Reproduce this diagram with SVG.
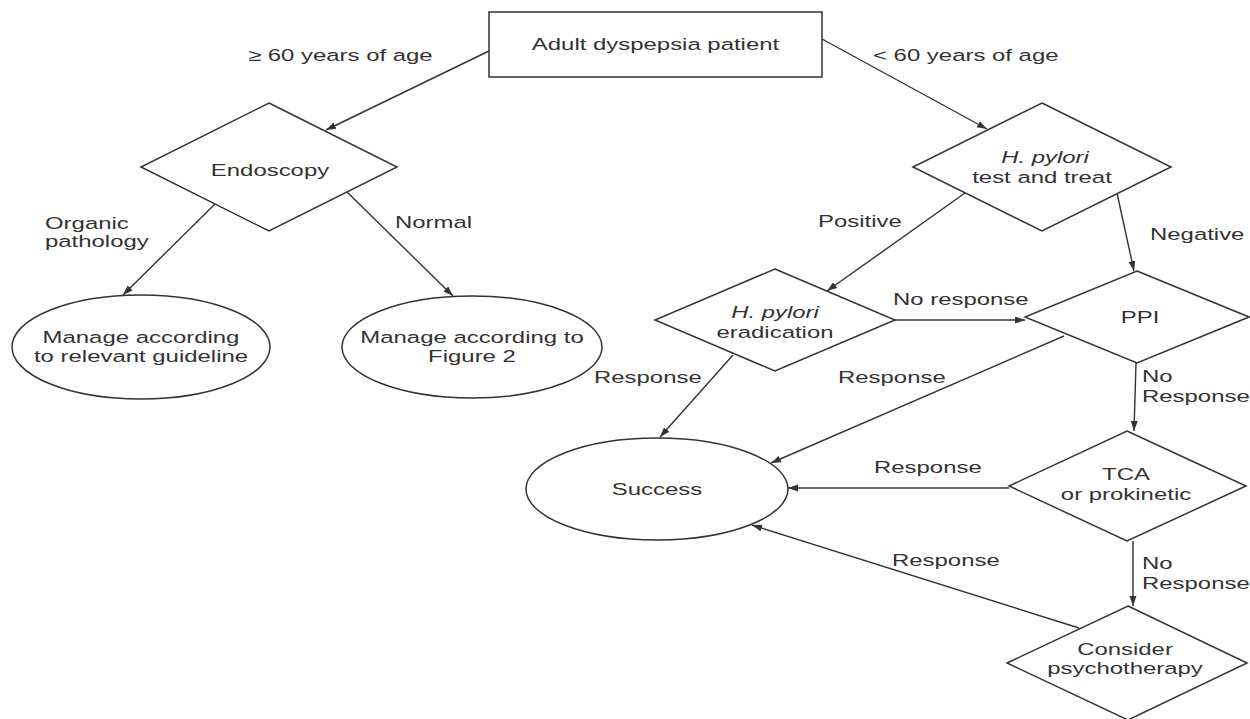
<svg xmlns="http://www.w3.org/2000/svg" width="1250" height="719" viewBox="0 0 1250 719">
<style>
.shape{fill:#fff;stroke:#333;stroke-width:1.5}
.conn{fill:none;stroke:#333;stroke-width:1.4;marker-end:url(#ah)}
text{font-family:"Liberation Sans",Arial,sans-serif;font-size:16.5px;fill:#333}
.m{text-anchor:middle}
</style>
<defs>
<marker id="ah" markerUnits="userSpaceOnUse" markerWidth="11" markerHeight="8" refX="10" refY="3.5" orient="auto">
<path d="M0,0 L10,3.5 L0,7 z" fill="#333"/>
</marker>
</defs>
<rect width="1250" height="719" fill="#fff"/>
<g id="connectors">
<line class="conn" x1="489" y1="51" x2="326" y2="130"/>
<line class="conn" x1="822" y1="39" x2="987" y2="129"/>
<line class="conn" x1="215" y1="204" x2="123" y2="295"/>
<line class="conn" x1="347" y1="192" x2="453" y2="296"/>
<line class="conn" x1="965" y1="193" x2="827" y2="291"/>
<line class="conn" x1="1117" y1="193" x2="1134" y2="271"/>
<line class="conn" x1="895" y1="320" x2="1025" y2="320"/>
<line class="conn" x1="733" y1="355" x2="660" y2="437"/>
<line class="conn" x1="1064" y1="336" x2="771" y2="463"/>
<line class="conn" x1="1136" y1="363" x2="1134" y2="431"/>
<line class="conn" x1="1009" y1="488" x2="788" y2="488"/>
<line class="conn" x1="1133" y1="541" x2="1133" y2="606"/>
<line class="conn" x1="1079" y1="628" x2="752" y2="525"/>
</g>
<g id="labels">
<text transform="translate(248,61) scale(1.45,1)">≥ 60 years of age</text>
<text transform="translate(873,61) scale(1.45,1)">&lt; 60 years of age</text>
<text transform="translate(45,229) scale(1.45,1)">Organic</text>
<text transform="translate(45,247) scale(1.45,1)">pathology</text>
<text transform="translate(395,228) scale(1.45,1)">Normal</text>
<text transform="translate(818,227) scale(1.45,1)">Positive</text>
<text transform="translate(1150,240) scale(1.45,1)">Negative</text>
<text transform="translate(893,305) scale(1.45,1)">No response</text>
<text transform="translate(594,383) scale(1.45,1)">Response</text>
<text transform="translate(838,383) scale(1.45,1)">Response</text>
<text transform="translate(1142,382) scale(1.45,1)">No</text>
<text transform="translate(1142,402) scale(1.45,1)">Response</text>
<text transform="translate(874,473) scale(1.45,1)">Response</text>
<text transform="translate(1142,569) scale(1.45,1)">No</text>
<text transform="translate(1142,589) scale(1.45,1)">Response</text>
<text transform="translate(892,566) scale(1.45,1)">Response</text>
</g>
<g id="start">
<rect class="shape" x="489" y="12" width="333" height="65"/>
<text class="m" transform="translate(655.5,50) scale(1.45,1)">Adult dyspepsia patient</text>
</g>
<g id="endoscopy">
<polygon class="shape" points="269,103 397,167 269,231 141,167"/>
<text class="m" transform="translate(270,176) scale(1.45,1)">Endoscopy</text>
</g>
<g id="hpylori-test">
<polygon class="shape" points="1042,103 1171,167 1042,231 913,167"/>
<text class="m" transform="translate(1045,163) scale(1.45,1)"><tspan font-style="italic">H. pylori</tspan></text>
<text class="m" transform="translate(1042,183) scale(1.45,1)">test and treat</text>
</g>
<g id="guideline">
<ellipse class="shape" cx="141" cy="347" rx="129" ry="52"/>
<text class="m" transform="translate(141,343) scale(1.45,1)">Manage according</text>
<text class="m" transform="translate(141,362) scale(1.45,1)">to relevant guideline</text>
</g>
<g id="figure2">
<ellipse class="shape" cx="472" cy="347" rx="130" ry="51"/>
<text class="m" transform="translate(472,343) scale(1.45,1)">Manage according to</text>
<text class="m" transform="translate(472,362) scale(1.45,1)">Figure 2</text>
</g>
<g id="eradication">
<polygon class="shape" points="775,269 895,320 775,371 655,320"/>
<text class="m" transform="translate(775,318) scale(1.45,1)"><tspan font-style="italic">H. pylori</tspan></text>
<text class="m" transform="translate(775,338) scale(1.45,1)">eradication</text>
</g>
<g id="ppi">
<polygon class="shape" points="1137,271 1249,317 1137,363 1025,317"/>
<text class="m" transform="translate(1140,323) scale(1.45,1)">PPI</text>
</g>
<g id="success">
<ellipse class="shape" cx="657" cy="489" rx="131" ry="51"/>
<text class="m" transform="translate(657,495) scale(1.45,1)">Success</text>
</g>
<g id="tca">
<polygon class="shape" points="1127,431 1246,486 1127,541 1009,486"/>
<text class="m" transform="translate(1126,480) scale(1.45,1)">TCA</text>
<text class="m" transform="translate(1126,500) scale(1.45,1)">or prokinetic</text>
</g>
<g id="psychotherapy">
<polygon class="shape" points="1128,606 1247,663 1128,720 1007,663"/>
<text class="m" transform="translate(1125,655) scale(1.45,1)">Consider</text>
<text class="m" transform="translate(1125,674) scale(1.45,1)">psychotherapy</text>
</g>
</svg>
